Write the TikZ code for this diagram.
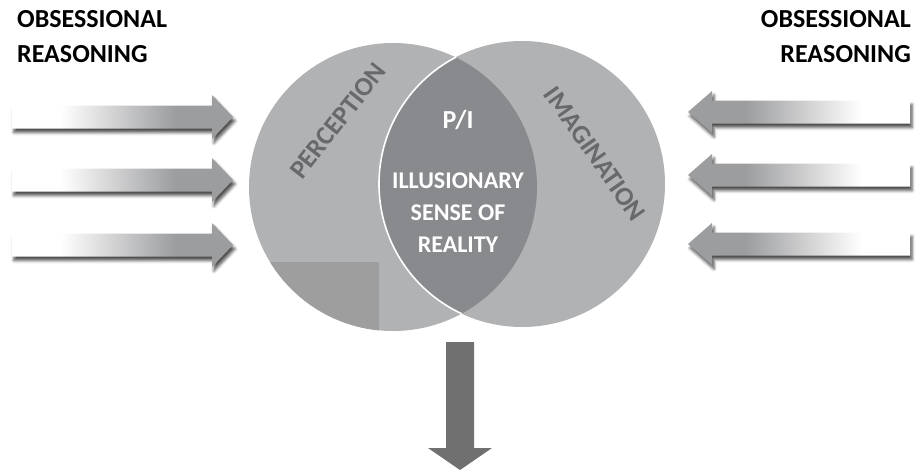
\documentclass[tikz,border=0pt]{standalone}
\usepackage{fontspec}
\setmainfont{Carlito}
\usetikzlibrary{shadows.blur}
\definecolor{circgray}{RGB}{177,178,180}
\definecolor{lensgray}{RGB}{137,138,141}
\definecolor{sqgray}{RGB}{158,158,158}
\definecolor{labgray}{RGB}{104,105,108}
\definecolor{arrowgray}{RGB}{156,157,159}
\definecolor{downgray}{RGB}{112,112,112}
\pgfdeclarehorizontalshading{arrowshade}{100bp}{color(0bp)=(white); color(36bp)=(white); color(62bp)=(arrowgray); color(100bp)=(arrowgray)}
\tikzset{
  inarrow/.style={shading=arrowshade, blur shadow={shadow xshift=2pt, shadow yshift=-4pt, shadow blur radius=3pt, shadow opacity=70}},
  rightarr/.pic={\path[inarrow] (0,-11.5) -- (200,-11.5) -- (200,-22) -- (221,0) -- (200,22) -- (200,11.5) -- (0,11.5) -- cycle;},
  leftarr/.pic={\path[inarrow, shading angle=180] (0,-11.5) -- (-198,-11.5) -- (-198,-21) -- (-222,0) -- (-198,21) -- (-198,11.5) -- (0,11.5) -- cycle;},
  toplab/.style={inner sep=0pt, font=\fontsize{26}{30}\selectfont\bfseries, text=black},
  circlab/.style={inner sep=0pt, font=\fontsize{26.5}{30}\selectfont\bfseries, text=labgray},
  midlab/.style={inner sep=0pt, anchor=base, font=\fontsize{24}{30}\selectfont\bfseries, text=white},
}
\begin{document}
\begin{tikzpicture}[x=1pt,y=-1pt]
\useasboundingbox (0,0) rectangle (917,472);
% top labels
\node[toplab, anchor=base west] (obsL) at (17,27) {OBSESSIONAL};
\node[toplab, anchor=base west] (reaL) at (17,62) {REASONING};
\node[toplab, anchor=base east] (obsR) at (911,27) {OBSESSIONAL};
\node[toplab, anchor=base east] (reaR) at (911,62) {REASONING};
% arrows
\pic (la1) at (12,117) {rightarr};
\pic (la2) at (12,180) {rightarr};
\pic (la3) at (12,245) {rightarr};
\pic (ra1) at (910,112) {leftarr};
\pic (ra2) at (910,175) {leftarr};
\pic (ra3) at (910,244) {leftarr};
% circles
\coordinate (pc) at (393,187);
\coordinate (ic) at (522,184);
\fill[circgray] (pc) circle[radius=144pt];
\fill[circgray] (ic) circle[radius=143pt];
\begin{scope}
  \clip (pc) circle[radius=144pt];
  \fill[sqgray] (240,262) rectangle (379,340);
  \fill[lensgray] (ic) circle[radius=143pt];
  \draw[white, line width=1.6pt] (ic) circle[radius=143pt];
\end{scope}
% circle labels
\node[circlab, rotate=52] (perc) at (338,121) {PERCEPTION};
\node[circlab, rotate=-55] (imag) at (595,154) {IMAGINATION};
\node[midlab, font=\fontsize{26}{30}\selectfont\bfseries] (pi) at (458,128) {P/I};
\node[midlab] (ill) at (458,188) {ILLUSIONARY};
\node[midlab] (sen) at (458,220) {SENSE OF};
\node[midlab] (rea) at (458,252) {REALITY};
% bottom arrow
\fill[downgray] (446,342) -- (474,342) -- (474,448) -- (492,448) -- (460,470) -- (428,448) -- (446,448) -- cycle;
\end{tikzpicture}
\end{document}
